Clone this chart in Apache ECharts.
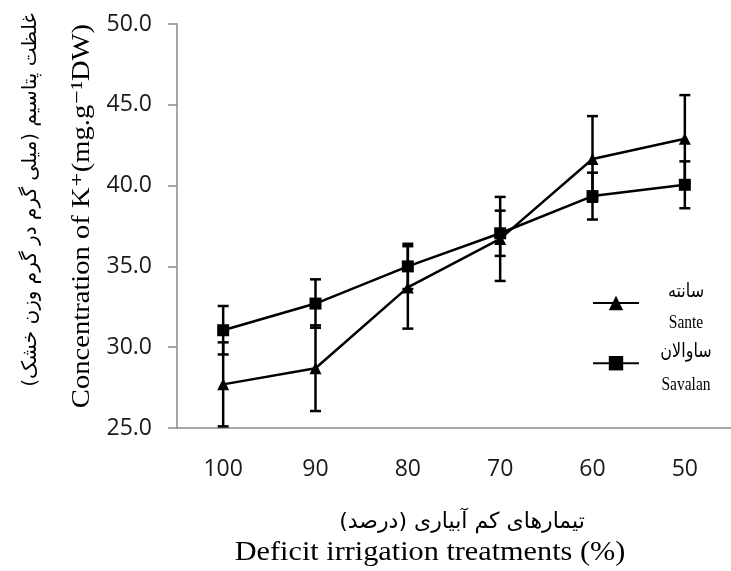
<!DOCTYPE html>
<html>
<head>
<meta charset="utf-8">
<script src="https://cdn.jsdelivr.net/npm/echarts@6/dist/echarts.min.js"></script>
<style>html,body{margin:0;padding:0;background:#fff;overflow:hidden}#c{width:731px;height:571px}</style>
</head>
<body>
<div id="c"></div>
<script>
const categories = ['100', '90', '80', '70', '60', '50'];
const santeValues = [27.7, 28.7, 33.7, 36.7, 41.65, 42.9];
const santeErrors = [2.6, 2.65, 2.55, 2.6, 2.65, 2.7];
const savalanValues = [31.05, 32.7, 35.0, 37.05, 39.35, 40.05];
const savalanErrors = [1.5, 1.5, 1.4, 1.4, 1.45, 1.45];
const yTicks = { min: 25, max: 50, interval: 5 };
const seriesNames = ['Sante', 'Savalan'];
const seriesNamesFa = ['سانته', 'ساوالان'];

const errData = (vals, errs) => vals.map((v, i) => [i, v - errs[i], v + errs[i]]);

function errRender(params, api) {
  const x = api.value(0);
  const lo = api.coord([x, api.value(1)]);
  const hi = api.coord([x, api.value(2)]);
  const w = 5.5;
  const st = { stroke: '#000', lineWidth: 2.5 };
  return {
    type: 'group',
    children: [
      { type: 'line', shape: { x1: lo[0], y1: lo[1], x2: hi[0], y2: hi[1] }, style: st },
      { type: 'line', shape: { x1: lo[0] - w, y1: lo[1], x2: lo[0] + w, y2: lo[1] }, style: st },
      { type: 'line', shape: { x1: hi[0] - w, y1: hi[1], x2: hi[0] + w, y2: hi[1] }, style: st }
    ]
  };
}

const chart = echarts.init(document.getElementById('c'));
const serif = '"Liberation Serif", "DejaVu Serif", serif';
const fa = '"DejaVu Sans", sans-serif';
const sans = '"Open Sans", sans-serif';

// legend labels (bilingual, stacked, centred to the right of each legend icon)
const legendTextX = 686;
const legendRowY = [[292, 323], [352, 385]];
const legendLabels = [];
seriesNames.forEach((n, i) => {
  legendLabels.push({ type: 'text', x: legendTextX, y: legendRowY[i][0], scaleY: 1.2,
    style: { text: seriesNamesFa[i], font: '16px ' + fa, fill: '#000', align: 'center', verticalAlign: 'middle' } });
  legendLabels.push({ type: 'text', x: legendTextX, y: legendRowY[i][1], scaleY: 1.2,
    style: { text: n, font: '15.5px ' + serif, fill: '#000', align: 'center', verticalAlign: 'middle' } });
});

chart.setOption({
  animation: false,
  grid: { left: 177, width: 561, top: 24, height: 404 },
  xAxis: {
    type: 'category',
    data: categories,
    boundaryGap: true,
    axisLine: { lineStyle: { color: '#8a8a8a', width: 1.5 } },
    axisTick: { show: false },
    axisLabel: { color: '#1a1a1a', fontSize: 23, fontFamily: sans, margin: 30 }
  },
  yAxis: {
    type: 'value',
    min: yTicks.min, max: yTicks.max, interval: yTicks.interval,
    splitLine: { show: false },
    axisLine: { show: true, lineStyle: { color: '#8a8a8a', width: 1.5 } },
    axisTick: { show: true, length: 9, lineStyle: { color: '#8a8a8a', width: 1.5 } },
    axisLabel: { color: '#1a1a1a', fontSize: 23, fontFamily: sans, margin: 25,
      formatter: v => v.toFixed(1) }
  },
  legend: {
    orient: 'vertical',
    left: 592, top: 294, padding: 0,
    itemWidth: 46, itemHeight: 18, itemGap: 44,
    data: seriesNames,
    formatter: () => '',
    textStyle: { fontSize: 1, padding: 0 }
  },
  series: [
    {
      name: seriesNames[0], type: 'line', data: santeValues,
      symbol: 'triangle', symbolSize: 12,
      lineStyle: { color: '#000', width: 2.5 }, itemStyle: { color: '#000' }, z: 3
    },
    {
      name: seriesNames[1], type: 'line', data: savalanValues,
      symbol: 'rect', symbolSize: 12,
      lineStyle: { color: '#000', width: 2.5 }, itemStyle: { color: '#000' }, z: 3
    },
    { type: 'custom', data: errData(santeValues, santeErrors), renderItem: errRender,
      encode: { x: 0, y: [1, 2] }, z: 2 },
    { type: 'custom', data: errData(savalanValues, savalanErrors), renderItem: errRender,
      encode: { x: 0, y: [1, 2] }, z: 2 }
  ],
  graphic: [
    { type: 'text', x: 31, y: 200, rotation: Math.PI / 2,
      style: { text: 'غلظت پتاسیم (میلی گرم در گرم وزن خشک)', font: '20px ' + fa, fill: '#000',
        align: 'center', verticalAlign: 'middle' } },
    { type: 'text', x: 82, y: 216, rotation: Math.PI / 2, scaleX: 1.1,
      style: { text: 'Concentration of K⁺(mg.g⁻¹DW)', font: '26px ' + serif, fill: '#000',
        align: 'center', verticalAlign: 'middle' } },
    { type: 'text', x: 462, y: 522,
      style: { text: 'تیمارهای کم آبیاری (درصد)', font: '22px ' + fa, fill: '#000',
        align: 'center', verticalAlign: 'middle' } },
    { type: 'text', x: 430, y: 553, scaleX: 1.12,
      style: { text: 'Deficit irrigation treatments (%)', font: '27px ' + serif, fill: '#000',
        align: 'center', verticalAlign: 'middle' } }
  ].concat(legendLabels)
});
</script>
</body>
</html>
